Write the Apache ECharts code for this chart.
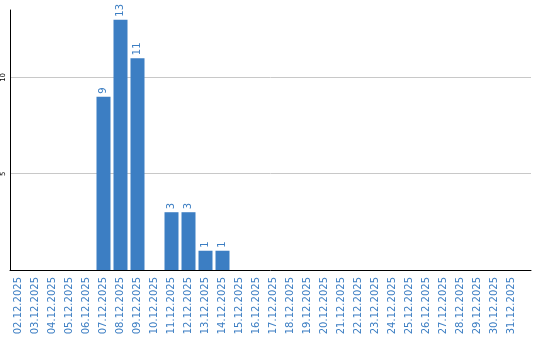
<!DOCTYPE html>
<html>
<head>
<meta charset="utf-8">
<script src="https://cdn.jsdelivr.net/npm/echarts@6/dist/echarts.min.js"></script>
<style>html,body{margin:0;padding:0;background:#fff}#c{width:540px;height:340px}</style>
</head>
<body>
<div id="c"></div>
<script>
var categories = ["02.12.2025","03.12.2025","04.12.2025","05.12.2025","06.12.2025","07.12.2025","08.12.2025","09.12.2025","10.12.2025","11.12.2025","12.12.2025","13.12.2025","14.12.2025","15.12.2025","16.12.2025","17.12.2025","18.12.2025","19.12.2025","20.12.2025","21.12.2025","22.12.2025","23.12.2025","24.12.2025","25.12.2025","26.12.2025","27.12.2025","28.12.2025","29.12.2025","30.12.2025","31.12.2025"];
var values = [0,0,0,0,0,9,13,11,0,3,3,1,1,0,0,0,0,0,0,0,0,0,0,0,0,0,0,0,0,0];
var yTicks = [0,5,10];

var blue = '#3c7ec3';
var font = 'DejaVu Sans';
var chart = echarts.init(document.getElementById('c'), null, {renderer:'canvas'});
chart.setOption({
  animation: false,
  grid: [
    {left: 10, top: 10, width: 521, bottom: 70, containLabel: false},
    {left: 10, top: 10, width: 510, bottom: 70, containLabel: false}
  ],
  xAxis: [
    {gridIndex: 0, type: 'value', min: 0, max: 1, axisLine: {show: true, onZero: false, lineStyle: {color: '#000', width: 1}},
     axisTick: {show: false}, axisLabel: {show: false}, splitLine: {show: false}},
    {gridIndex: 1, type: 'category', data: categories, boundaryGap: true,
     axisLine: {show: false}, axisTick: {show: false}, splitLine: {show: false},
     axisLabel: {rotate: 90, interval: 0, margin: 7, color: blue, fontSize: 10, fontFamily: font}}
  ],
  yAxis: [
    {gridIndex: 0, type: 'value', min: 0, max: 13.5, interval: 5,
     axisLine: {show: true, lineStyle: {color: '#000', width: 1}}, axisTick: {show: false},
     splitLine: {show: true, showMinLine: false, showMaxLine: false, lineStyle: {color: '#c8c8c8', width: 1}},
     axisLabel: {rotate: 90, margin: 3, color: '#000', fontSize: 7, fontFamily: font, showMaxLabel: false,
       formatter: function(v){ return (v === 0 || yTicks.indexOf(v) < 0) ? '' : String(v); }}},
    {gridIndex: 1, type: 'value', min: 0, max: 13.5, interval: 5, show: false}
  ],
  series: [{
    type: 'bar', xAxisIndex: 1, yAxisIndex: 1, data: values, barWidth: 14,
    itemStyle: {color: blue},
    label: {show: true, position: 'top', rotate: 90, align: 'left', verticalAlign: 'middle', distance: 3,
      color: blue, fontSize: 10, fontFamily: font,
      formatter: function(p){ return p.value ? String(p.value) : ''; }}
  }]
});
</script>
</body>
</html>
